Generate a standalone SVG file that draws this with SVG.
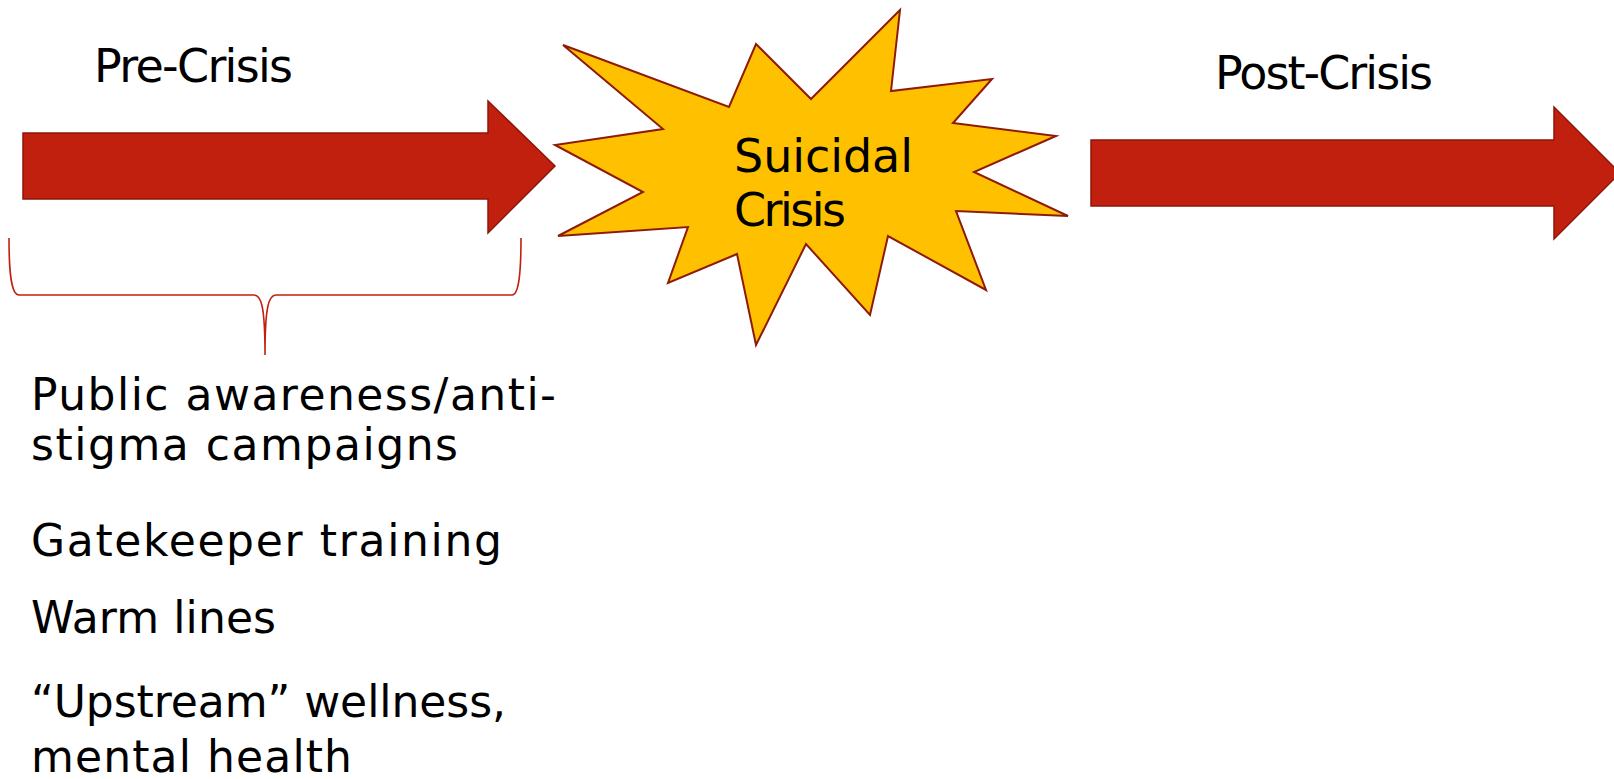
<svg xmlns="http://www.w3.org/2000/svg" width="1614" height="779" viewBox="0 0 1614 779">
<style>
.arrow{fill:#C2200E;stroke:#8E1608;stroke-width:1.5;stroke-linejoin:miter}
.star{fill:#FFC000;stroke:#8E1A0A;stroke-width:2;stroke-linejoin:miter}
.brace{fill:none;stroke:#C2200E;stroke-width:1.6}
text{font-family:"DejaVu Sans","Liberation Sans",sans-serif;fill:#000}
.head{font-size:46px}
.list{font-size:44px}
</style>
<rect width="1614" height="779" fill="#fff"/>
<g id="pre-arrow">
<polygon class="arrow" points="23,133 488,133 488,101 555,166 488,233 488,199 23,199"/>
</g>
<g id="post-arrow">
<polygon class="arrow" points="1091,140 1554,140 1554,107 1620,173 1554,239 1554,206 1091,206"/>
</g>
<g id="crisis">
<polygon class="star" points="563,45 729,107 756,44 811,99 900,10 891,91 992,79 953,123 1056,136 974,172 1068,216 956,211 986,290 888,236 870,315 806,244 756,345 737,254 668,283 688,227 558,236 643,192 555,145 663,129"/>
<text class="head" x="734" y="172" textLength="179">Suicidal</text>
<text class="head" x="734" y="226" textLength="112">Crisis</text>
</g>
<g id="pre-label">
<text class="head" x="94" y="82" textLength="199">Pre-Crisis</text>
</g>
<g id="post-label">
<text class="head" x="1215" y="89" textLength="218">Post-Crisis</text>
</g>
<g id="connectors">
<path class="brace" d="M9,238 C9,272 11,295 19,295 L254,295 C261,295 265,305 265,355 M265,355 C265,305 269,295 276,295 L512,295 C519,295 521,272 521,238"/>
</g>
<g id="pre-list">
<text class="list" x="31" y="410" textLength="525">Public awareness/anti-</text>
<text class="list" x="31" y="460" textLength="427">stigma campaigns</text>
<text class="list" x="31" y="556" textLength="471">Gatekeeper training</text>
<text class="list" x="31" y="633" textLength="245">Warm lines</text>
<text class="list" x="31" y="717" textLength="475">“Upstream” wellness,</text>
<text class="list" x="31" y="772" textLength="321">mental health</text>
</g>
</svg>
